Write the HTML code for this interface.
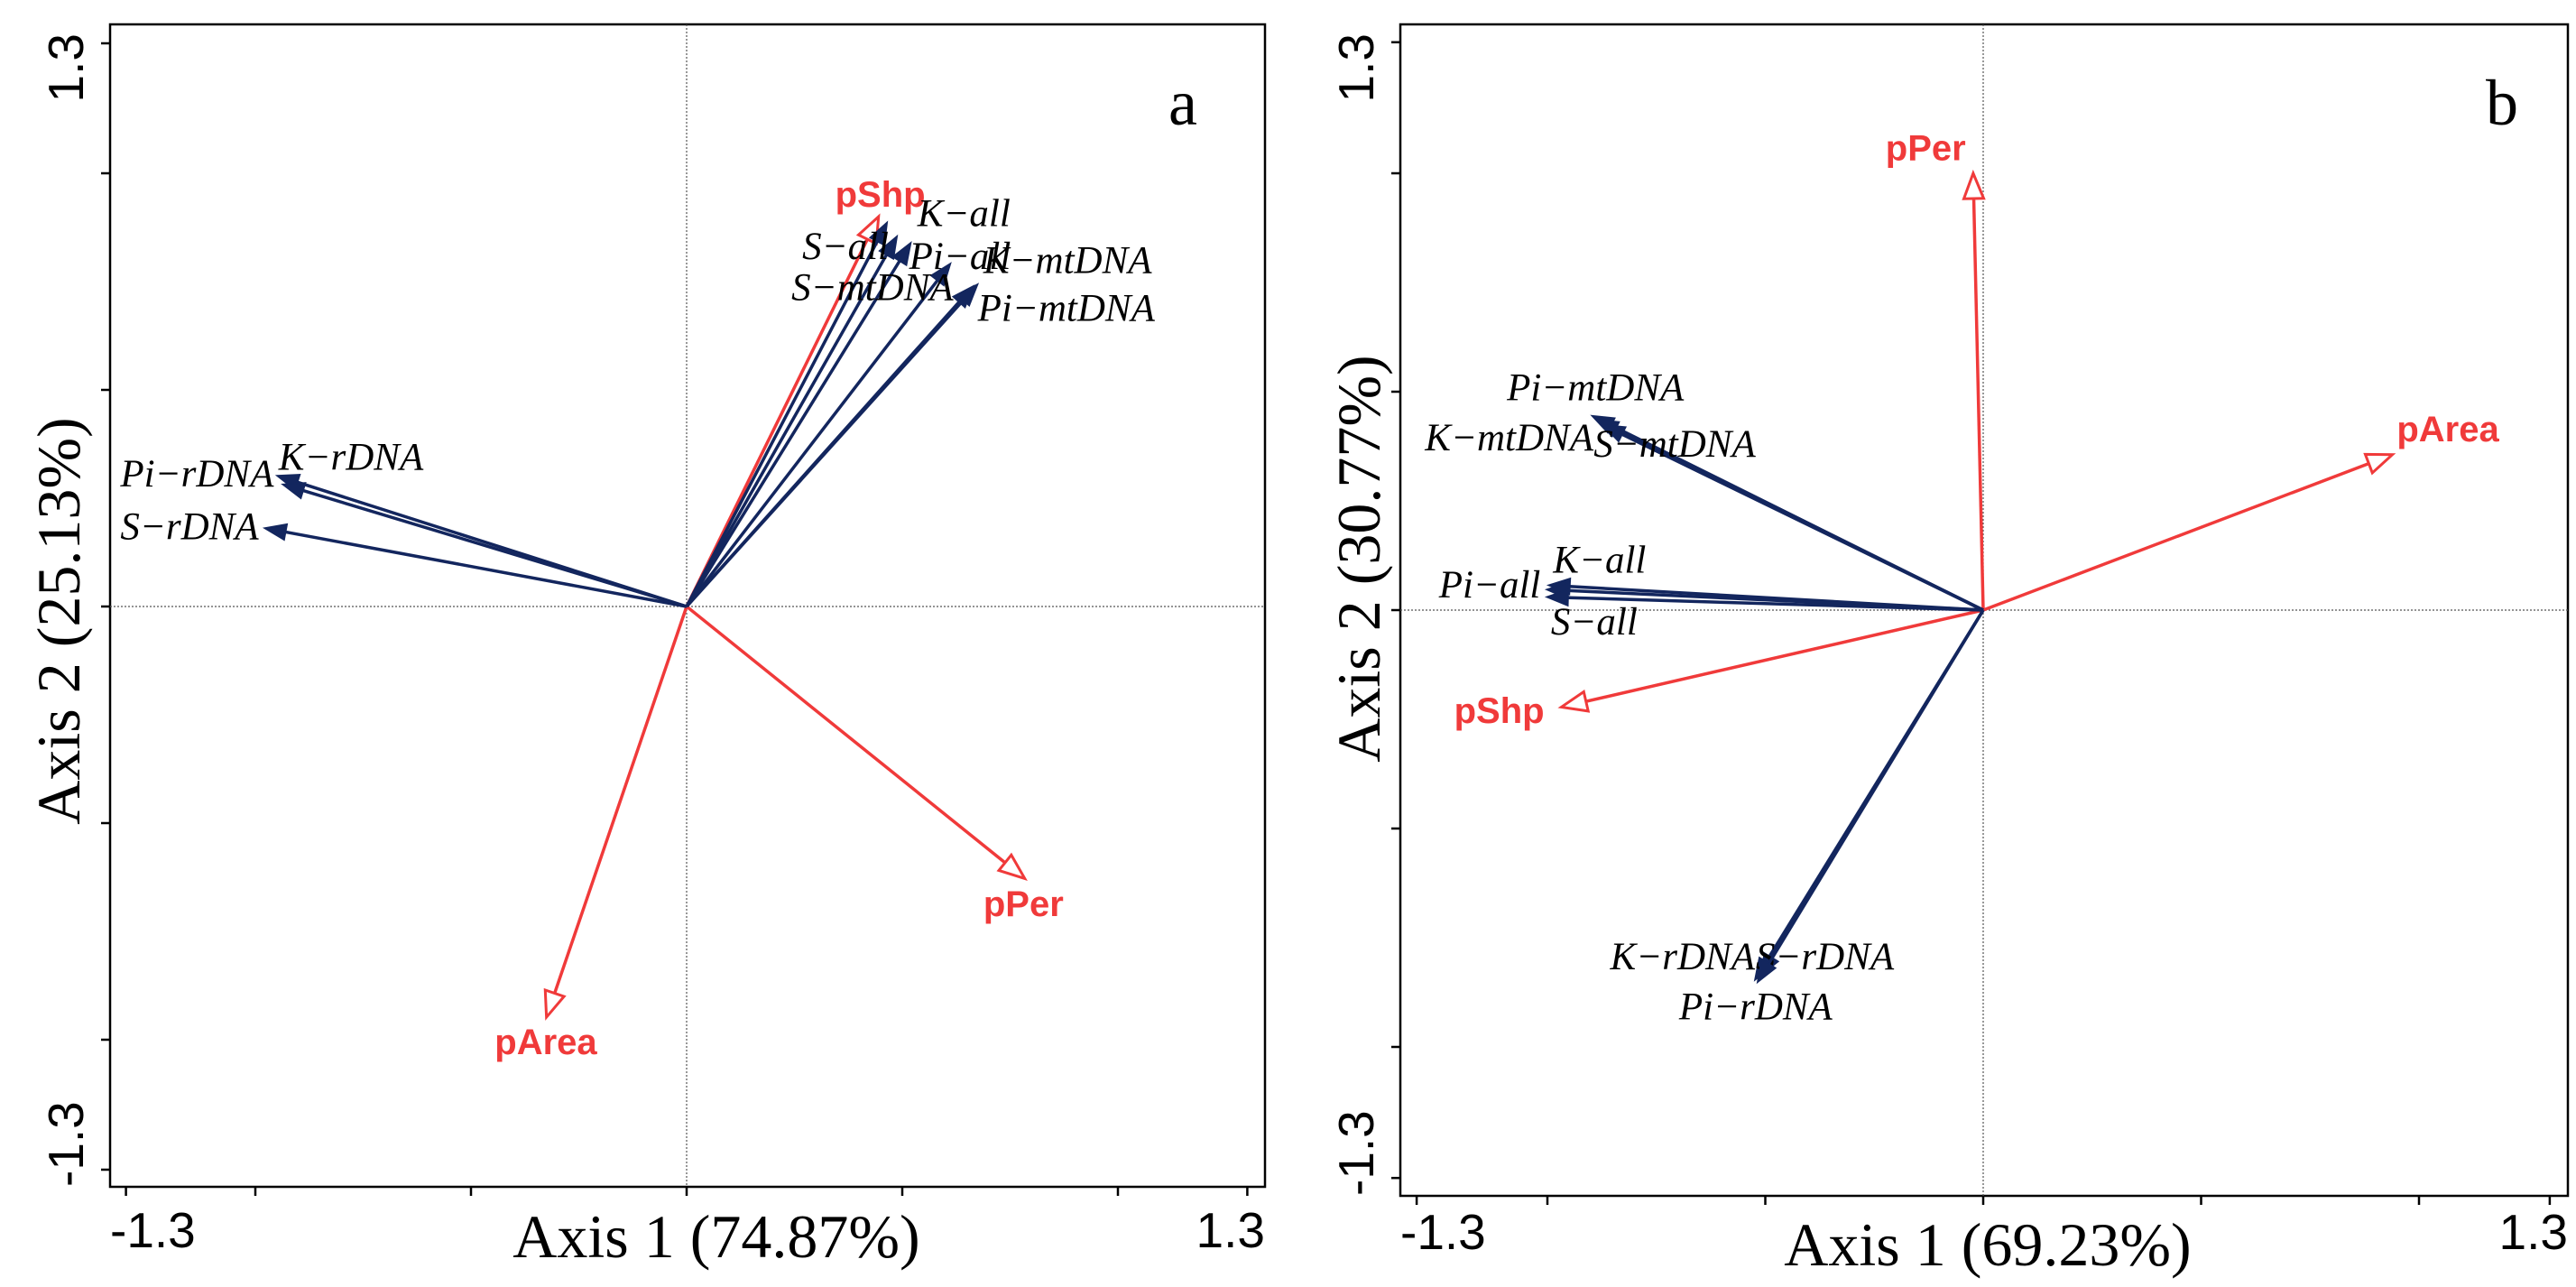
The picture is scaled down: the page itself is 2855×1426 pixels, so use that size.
<!DOCTYPE html>
<html><head><meta charset="utf-8"><style>
html,body{margin:0;padding:0;background:#fff;}
svg{display:block;}
.serif{font-family:"Liberation Serif",serif;}
.sans{font-family:"Liberation Sans",sans-serif;}
</style></head><body>
<svg id="chart" width="2855" height="1426" viewBox="0 0 2855 1426" xmlns="http://www.w3.org/2000/svg"></svg>
<script>
// Panel a data
const aNames = ["pShp","pPer","pArea","K-all","S-all","Pi-all","S-mtDNA","K-mtDNA","Pi-mtDNA","K-rDNA","Pi-rDNA","S-rDNA"];
const aType = ["env","env","env","gen","gen","gen","gen","gen","gen","gen","gen","gen"];
const aX = [0.445,0.784,-0.325,0.465,0.488,0.520,0.612,0.675,0.665,-0.950,-0.937,-0.979];
const aY = [0.900,-0.628,-0.948,0.887,0.855,0.840,0.792,0.744,0.740,0.302,0.282,0.181];
const aLabX = [0.449,0.688,-0.445,0.535,0.268,0.516,0.243,0.688,0.675,-0.946,-1.313,-1.313];
const aLabY = [0.950,-0.687,-1.006,0.906,0.830,0.807,0.735,0.798,0.687,0.344,0.305,0.183];
const aAnchor = ["middle","start","start","start","start","start","start","start","start","start","start","start"];
// Panel b data
const bNames = ["pPer","pArea","pShp","Pi-mtDNA","K-mtDNA","S-mtDNA","K-all","Pi-all","S-all","K-rDNA","S-rDNA","Pi-rDNA"];
const bType = ["env","env","env","gen","gen","gen","gen","gen","gen","gen","gen","gen"];
const bX = [-0.023,0.939,-0.968,-0.898,-0.888,-0.873,-0.998,-1.002,-1.002,-0.524,-0.512,-0.518];
const bY = [1.000,0.356,-0.222,0.445,0.436,0.424,0.057,0.047,0.030,-0.847,-0.837,-0.852];
const bLabX = [-0.224,0.949,-1.214,-1.093,-1.281,-0.894,-0.987,-1.249,-0.992,-0.856,-0.522,-0.698];
const bLabY = [1.057,0.413,-0.231,0.508,0.394,0.379,0.114,0.057,-0.028,-0.794,-0.794,-0.909];
const tickVals = [-1.3,-1.0,-0.5,0,0.5,1.0,1.3];
const tickLabels = ["-1.3","1.3"];

const NS="http://www.w3.org/2000/svg";
const svg=document.getElementById('chart');
function mk(tag,attrs,parent){const e=document.createElementNS(NS,tag);for(const k in attrs)e.setAttribute(k,attrs[k]);(parent||svg).appendChild(e);return e;}
const BLUE="#13265e", RED="#f03a3a";

function panel(cfg){
  const g=mk('g',{});
  
  
  const sx=v=>cfg.ox+v*cfg.kx, sy=v=>cfg.oy-v*cfg.ky;
  const fr=mk('rect',{x:cfg.l,y:cfg.t,width:cfg.r-cfg.l,height:cfg.b-cfg.t,fill:'none',stroke:'#000','stroke-width':2.5},g);
  
  
  const zx=mk('line',{x1:cfg.l,x2:cfg.r,y1:sy(0),y2:sy(0),stroke:'#555','stroke-width':1.2,'stroke-dasharray':'2,2'},g);
  
  
  const zy=mk('line',{x1:sx(0),x2:sx(0),y1:cfg.t,y2:cfg.b,stroke:'#555','stroke-width':1.2,'stroke-dasharray':'2,2'},g);
  
  
  tickVals.forEach(v=>{
    const t1=mk('line',{x1:sx(v),x2:sx(v),y1:cfg.b,y2:cfg.b+10,stroke:'#000','stroke-width':2.5},g);
    
    
    const t2=mk('line',{x1:cfg.l-10,x2:cfg.l,y1:sy(v),y2:sy(v),stroke:'#000','stroke-width':2.5},g);
    
    
  });
  let e=mk('text',{x:cfg.l,y:cfg.xlb,'font-size':55,'text-anchor':'start',class:'sans'},g);e.textContent=tickLabels[0];
  
  
  e=mk('text',{x:cfg.r,y:cfg.xlb,'font-size':55,'text-anchor':'end',class:'sans'},g);e.textContent=tickLabels[1];
  
  
  e=mk('text',{x:0,y:0,'font-size':55,'text-anchor':'end',class:'sans',transform:`translate(${cfg.ylb},${cfg.t+10}) rotate(-90)`},g);e.textContent=tickLabels[1];
  
  
  e=mk('text',{x:0,y:0,'font-size':55,'text-anchor':'start',class:'sans',transform:`translate(${cfg.ylb},${cfg.b}) rotate(-90)`},g);e.textContent=tickLabels[0];
  
  
  e=mk('text',{x:cfg.xtx,y:cfg.xty,'font-size':68,'text-anchor':'middle',class:'serif'},g);e.textContent=cfg.xtitle;
  
  
  e=mk('text',{x:0,y:0,'font-size':68,'text-anchor':'middle',class:'serif',transform:`translate(${cfg.ytx},${cfg.yty}) rotate(-90)`},g);e.textContent=cfg.ytitle;
  
  
  e=mk('text',{x:cfg.letx,y:cfg.lety,'font-size':72,'text-anchor':'middle',class:'serif'},g);e.textContent=cfg.id;
  
  
  cfg.names.forEach((n,i)=>{
    const x0=sx(0),y0=sy(0),x1=sx(cfg.xs[i]),y1=sy(cfg.ys[i]);
    const dx=x1-x0,dy=y1-y0,L=Math.hypot(dx,dy),ux=dx/L,uy=dy/L,px=-uy,py=ux;
    const env=cfg.types[i]==='env';
    const col=env?RED:BLUE;
    const hl=env?28:24, hw=env?11:9;
    const bx=x1-ux*hl, by=y1-uy*hl;
    const ag=mk('g',{},g);
    
    
    mk('line',{x1:x0,y1:y0,x2:env?bx:x1-ux*8,y2:env?by:y1-uy*8,stroke:col,'stroke-width':env?3.5:3.5},ag);
    mk('polygon',{points:`${x1},${y1} ${bx+px*hw},${by+py*hw} ${bx-px*hw},${by-py*hw}`,fill:env?'#fff':col,stroke:col,'stroke-width':env?3:1.5},ag);
    const t=mk('text',{x:sx(cfg.lx[i]),y:sy(cfg.ly[i]),'dominant-baseline':'central','text-anchor':cfg.anchors?cfg.anchors[i]:'start',
      'font-size':env?40:43,'font-weight':env?'bold':'normal','font-style':env?'normal':'italic',fill:env?RED:'#000',class:env?'sans':'serif'},g);
    t.textContent=n.replace('-','\u2212');
    
    
  });
}
panel({id:'a',l:122,r:1402,t:27,b:1315,ox:761,oy:672,kx:478,ky:480,xlb:1382,ylb:92,
  xtx:794,xty:1393,ytx:88,yty:688,xtitle:'Axis 1 (74.87%)',ytitle:'Axis 2 (25.13%)',letx:1311,lety:138,
  names:aNames,types:aType,xs:aX,ys:aY,lx:aLabX,ly:aLabY,anchors:aAnchor});
panel({id:'b',l:1552,r:2846,t:27,b:1325,ox:2198,oy:676,kx:483,ky:484,xlb:1384,ylb:1522,
  xtx:2203,xty:1402,ytx:1529,yty:619,xtitle:'Axis 1 (69.23%)',ytitle:'Axis 2 (30.77%)',letx:2773,lety:138,
  names:bNames,types:bType,xs:bX,ys:bY,lx:bLabX,ly:bLabY,anchors:null});
</script>
</body></html>
